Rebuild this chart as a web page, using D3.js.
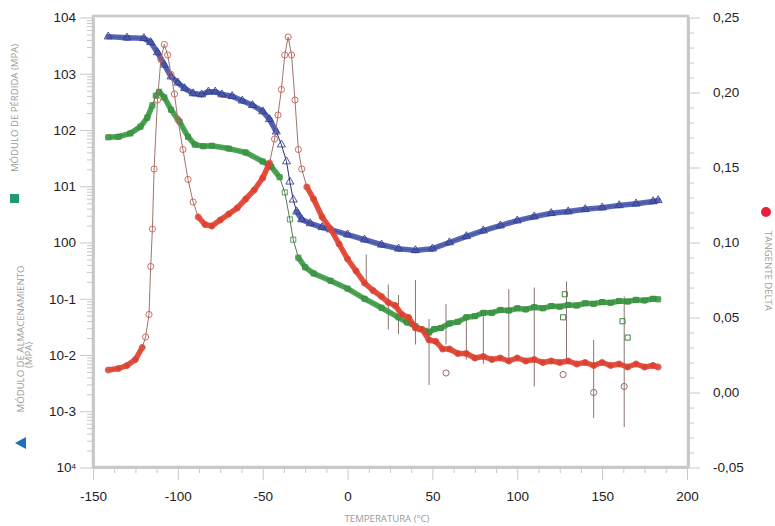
<!DOCTYPE html>
<html>
<head>
<meta charset="utf-8">
<script src="https://cdnjs.cloudflare.com/ajax/libs/d3/7.8.5/d3.min.js"></script>
<style>
	body { margin: 0; background: #fff; }
	svg { display: block; font-family: "Open Sans", sans-serif; }
	.axis text { fill: #222; font-size: 13.5px; }
	.axis path, .axis line { stroke: #c8c8c8; }
	.title { fill: #9a9a9a; font-size: 9.6px; }
</style>
</head>
<body>
<div class="wrapper"></div>
<script>

// ---------------- data ---------------- //

// storage modulus (blue, left log axis) - stored as log10 of the value
var storageTemp = [-141,-130,-120,-116,-112,-108,-104,-100,-96,-91,-86,-82,-78,-74,-68,-62,-56,-50,-46,-42,-39,-36,-34,-32,-30,-27,-22,-15,-10,0,10,20,30,40,50,60,70,80,90,100,110,120,130,140,150,160,170,180,183];
var storageExp = [3.66,3.64,3.63,3.56,3.38,3.16,2.95,2.84,2.74,2.65,2.63,2.68,2.68,2.63,2.60,2.52,2.44,2.33,2.19,1.97,1.74,1.44,1.08,0.76,0.55,0.41,0.34,0.27,0.23,0.14,0.05,-0.04,-0.11,-0.14,-0.11,0.00,0.11,0.21,0.30,0.39,0.46,0.52,0.55,0.59,0.62,0.66,0.69,0.73,0.75];

// loss modulus (green, left log axis)
var lossTemp = [-141,-135,-128,-122,-118,-115,-113,-111,-108,-104,-99,-94,-90,-85,-80,-70,-60,-50,-45,-40,-37,-34,-32,-29,-25,-20,-10,0,10,20,30,35,40,43,46,48,51,55,60,65,70,75,80,85,90,95,100,105,110,115,120,125,130,135,140,145,150,155,160,165,170,175,180,183];
var lossExp = [1.87,1.88,1.94,2.06,2.22,2.44,2.61,2.68,2.58,2.36,2.15,1.88,1.74,1.71,1.72,1.67,1.60,1.44,1.35,1.16,0.89,0.41,0.05,-0.27,-0.44,-0.55,-0.68,-0.82,-1.00,-1.16,-1.33,-1.42,-1.49,-1.54,-1.57,-1.60,-1.54,-1.52,-1.44,-1.41,-1.33,-1.31,-1.25,-1.25,-1.20,-1.21,-1.17,-1.19,-1.15,-1.17,-1.13,-1.14,-1.11,-1.12,-1.08,-1.09,-1.06,-1.07,-1.04,-1.05,-1.02,-1.03,-1.00,-1.01];

// tangent delta (red, right axis)
var tanTemp = [-141,-135,-130,-125,-121,-119,-117,-116,-115,-114,-112,-110,-108,-106,-104,-102,-100,-97,-94,-91,-88,-84,-80,-75,-70,-65,-60,-55,-50,-46,-43,-41,-39,-37,-35,-33,-31,-29,-27,-24,-20,-15,-10,-5,0,5,10,15,20,24,28,32,36,40,44,48,52,56,60,65,70,75,80,85,90,95,100,105,110,115,120,125,130,135,140,145,150,155,160,165,170,175,180,183];
var tanDelta = [0.015,0.016,0.018,0.022,0.030,0.037,0.052,0.084,0.109,0.149,0.195,0.222,0.232,0.225,0.212,0.199,0.182,0.162,0.142,0.127,0.117,0.112,0.111,0.115,0.119,0.123,0.129,0.135,0.143,0.153,0.169,0.185,0.202,0.225,0.237,0.225,0.195,0.162,0.149,0.137,0.129,0.117,0.109,0.099,0.089,0.081,0.073,0.068,0.064,0.060,0.058,0.052,0.050,0.043,0.042,0.035,0.034,0.029,0.029,0.026,0.026,0.023,0.024,0.022,0.023,0.021,0.023,0.021,0.022,0.020,0.021,0.020,0.021,0.019,0.020,0.018,0.020,0.018,0.019,0.017,0.019,0.017,0.018,0.017];

// stray points and the thin vertical glitches in the noisy part
var lossOutTemp = [128,127,162,165];
var lossOutExp = [-0.92,-1.33,-1.40,-1.69];
var tanOutTemp = [145,163,58,127];
var tanOutDelta = [0.000,0.004,0.013,0.012];
var spikeTemp = [11,24,30,40,48,58,70,80,95,110,129,145,163];
var spikeHigh = [0.092,0.072,0.065,0.075,0.049,0.059,0.052,0.055,0.069,0.070,0.074,0.035,0.064];
var spikeLow = [0.072,0.042,0.039,0.032,0.005,0.032,0.022,0.019,0.022,0.004,0.022,-0.017,-0.023];

// axes
var xTicks = [-150,-100,-50,0,50,100,150,200];
var leftTicks = [4,3,2,1,0,-1,-2,-3,-4];
var leftLabels = ["104","103","102","101","100","10-1","10-2","10-3","10"];
var rightTicks = [-0.05,0,0.05,0.10,0.15,0.20,0.25];

// ---------------- layout ---------------- //

var WIDTH = 775,
	HEIGHT = 526,
	LEFT = 93,
	RIGHT = 688,
	TOP = 16,
	BOTTOM = 467,
	STEEP = 2.5;

var svg = d3.select(".wrapper")
	.append("svg")
		.attr("width", WIDTH)
		.attr("height", HEIGHT);

var x = d3.scaleLinear().domain([-150, 200]).range([LEFT, 687]);
var yL = d3.scaleLog().domain([1e-4, 1e4]).range([BOTTOM + 0.5, TOP + 1.5]);
var yR = d3.scaleLinear().domain([-0.05, 0.25]).range([BOTTOM + 0.5, TOP + 1.5]);

// plain hyphen for negatives, like the original
function hyphen(s) { return String(s).replace("\u2212", "-"); }

// plot frame
svg.append("rect")
	.attr("x", LEFT)
	.attr("y", TOP)
	.attr("width", RIGHT - LEFT)
	.attr("height", BOTTOM - TOP)
	.attr("fill", "none")
	.attr("stroke", "#c8c8c8")
	.attr("stroke-width", 2.5);

// left axis (log)
var leftMinor = yL.ticks().filter(function(v) {
	return leftTicks.indexOf(Math.round(Math.log10(v) * 1000) / 1000) < 0;
});
svg.append("g")
	.attr("class", "axis")
	.attr("transform", "translate(" + LEFT + ",0)")
	.call(d3.axisLeft(yL).tickValues(leftMinor).tickSize(6).tickSizeOuter(0).tickFormat(""));
svg.append("g")
	.attr("class", "axis left")
	.attr("transform", "translate(" + LEFT + ",0)")
	.call(d3.axisLeft(yL)
		.tickValues(leftTicks.map(function(e) { return Math.pow(10, e); }))
		.tickSize(13).tickSizeOuter(0).tickPadding(4)
		.tickFormat(function(d, i) { return leftLabels[i]; }));

// bottom label is written 10 with a raised 4
svg.selectAll(".left .tick text")
	.filter(function(d, i) { return i === leftTicks.length - 1; })
	.append("tspan")
		.attr("dy", "-0.45em")
		.style("font-size", "8px")
		.text("4");

// right axis
var rightMinor = d3.range(-4, 25).map(function(v) { return v / 100; })
	.filter(function(v) { return Math.round(v * 100) % 5 !== 0; });
svg.append("g")
	.attr("class", "axis")
	.attr("transform", "translate(" + RIGHT + ",0)")
	.call(d3.axisRight(yR).tickValues(rightMinor).tickSize(6).tickSizeOuter(0).tickFormat(""));
svg.append("g")
	.attr("class", "axis")
	.attr("transform", "translate(" + RIGHT + ",0)")
	.call(d3.axisRight(yR).tickValues(rightTicks).tickSize(12).tickSizeOuter(0).tickPadding(13)
		.tickFormat(function(d) { return hyphen(d3.format(".2f")(d)).replace(".", ","); }));

// bottom axis
var xMinor = d3.range(-150, 200, 12.5).filter(function(v) { return v % 50 !== 0; });
svg.append("g")
	.attr("class", "axis")
	.attr("transform", "translate(0," + BOTTOM + ")")
	.call(d3.axisBottom(x).tickValues(xMinor).tickSize(6).tickSizeOuter(0).tickFormat(""));
svg.append("g")
	.attr("class", "axis")
	.attr("transform", "translate(0," + BOTTOM + ")")
	.call(d3.axisBottom(x).tickValues(xTicks).tickSize(13).tickSizeOuter(0).tickPadding(11)
		.tickFormat(function(d) { return hyphen(d); }));

svg.selectAll(".axis path").attr("stroke-width", 2.5);

// ---------------- series ---------------- //

function toPoints(temps, vals, yScale, isExp) {
	return temps.map(function(t, i) {
		var v = isExp ? Math.pow(10, vals[i]) : vals[i];
		return [x(t), yScale(v)];
	});
}

function drawSeries(pts, opt) {
	var g = svg.append("g").attr("class", "series");

	// thin connecting line
	g.append("path")
		.attr("d", d3.line()(pts))
		.attr("fill", "none")
		.attr("stroke", opt.thin)
		.attr("stroke-width", 1);

	// dense part: markers overlap into a thick band
	for (var i = 1; i < pts.length; i++) {
		var a = pts[i - 1], b = pts[i];
		var slope = Math.abs((b[1] - a[1]) / (b[0] - a[0]));
		if (slope < STEEP) {
			g.append("line")
				.attr("x1", a[0]).attr("y1", a[1])
				.attr("x2", b[0]).attr("y2", b[1])
				.attr("stroke", opt.band)
				.attr("stroke-width", 5.5)
				.attr("stroke-linecap", "round")
				.attr("opacity", 0.9);
		}
	}

	g.selectAll(".mark")
		.data(pts)
		.enter()
		.append("path")
			.attr("class", "mark")
			.attr("transform", function(d) { return "translate(" + d[0] + "," + d[1] + ")"; })
			.attr("d", d3.symbol().type(opt.symbol).size(opt.size))
			.attr("fill", "none")
			.attr("stroke", opt.mark)
			.attr("stroke-width", 1)
			.attr("opacity", 0.85);
}

// glitches first, so the curves sit on top
svg.append("g")
	.selectAll("line")
	.data(spikeTemp)
	.enter()
	.append("line")
		.attr("x1", function(d) { return x(d); })
		.attr("x2", function(d) { return x(d); })
		.attr("y1", function(d, i) { return yR(spikeHigh[i]); })
		.attr("y2", function(d, i) { return yR(spikeLow[i]); })
		.attr("stroke", "#8a7670")
		.attr("stroke-width", 1);

drawSeries(toPoints(storageTemp, storageExp, yL, true), {
	thin: "#2f3472", band: "#4656ab", mark: "#2f3a88", symbol: d3.symbolTriangle, size: 28
});
drawSeries(toPoints(lossTemp, lossExp, yL, true), {
	thin: "#557a55", band: "#3a9a44", mark: "#3d8a40", symbol: d3.symbolSquare, size: 26
});
drawSeries(toPoints(tanTemp, tanDelta, yR, false), {
	thin: "#a0746c", band: "#e63c2c", mark: "#c5584a", symbol: d3.symbolCircle, size: 30
});

// stray markers
svg.append("g")
	.selectAll("path")
	.data(lossOutTemp)
	.enter()
	.append("path")
		.attr("transform", function(d, i) { return "translate(" + x(d) + "," + yL(Math.pow(10, lossOutExp[i])) + ")"; })
		.attr("d", d3.symbol().type(d3.symbolSquare).size(26))
		.attr("fill", "none")
		.attr("stroke", "#3d8a40");
svg.append("g")
	.selectAll("path")
	.data(tanOutTemp)
	.enter()
	.append("path")
		.attr("transform", function(d, i) { return "translate(" + x(d) + "," + yR(tanOutDelta[i]) + ")"; })
		.attr("d", d3.symbol().type(d3.symbolCircle).size(30))
		.attr("fill", "none")
		.attr("stroke", "#9a6a60");

// ---------------- titles and legend marks ---------------- //

svg.append("text")
	.attr("class", "title")
	.attr("transform", "translate(17.5,108) rotate(-90)")
	.attr("text-anchor", "middle")
	.text("MÓDULO DE PÉRDIDA (MPA)");

svg.append("rect")
	.attr("x", 10).attr("y", 194)
	.attr("width", 9).attr("height", 9)
	.attr("fill", "#1e9a6e");

svg.append("text")
	.attr("class", "title")
	.attr("transform", "translate(23.5,339) rotate(-90)")
	.attr("text-anchor", "middle")
	.text("MÓDULO DE ALMACENAMIENTO");

svg.append("text")
	.attr("class", "title")
	.attr("transform", "translate(31.5,355) rotate(-90)")
	.attr("text-anchor", "middle")
	.text("(MPA)");

svg.append("path")
	.attr("d", "M15,443 L26,437 L26,449 Z")
	.attr("fill", "#1d6fc0");

svg.append("circle")
	.attr("cx", 766).attr("cy", 212).attr("r", 5)
	.attr("fill", "#e8203c");

svg.append("text")
	.attr("class", "title")
	.attr("transform", "translate(764.5,271) rotate(90)")
	.attr("text-anchor", "middle")
	.text("TANGENTE DELTA");

svg.append("text")
	.attr("class", "title")
	.attr("x", 387).attr("y", 522)
	.attr("text-anchor", "middle")
	.text("TEMPERATURA (°C)");

</script>
</body>
</html>
